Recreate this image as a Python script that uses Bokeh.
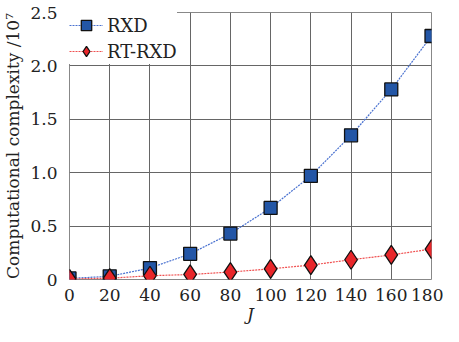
from bokeh.plotting import figure
from bokeh.models import FixedTicker, Range1d, Legend, LegendItem
from bokeh.embed import file_html
from bokeh.resources import INLINE

J = [0, 20, 40, 60, 80, 100, 120, 140, 160, 180]
rxd = [0.01, 0.03, 0.107, 0.24, 0.43, 0.67, 0.97, 1.35, 1.78, 2.28]
rt_rxd = [0.005, 0.012, 0.035, 0.047, 0.07, 0.10, 0.135, 0.185, 0.23, 0.285]
y_ticks = [0, 0.5, 1.0, 1.5, 2.0, 2.5]
y_labels = ["0", "0.5", "1.0", "1.5", "2.0", "2.5"]
x_ticks = [0, 20, 40, 60, 80, 100, 120, 140, 160, 180]

AX_FONT = "'DejaVu Serif', serif"
AX_FS = "17px"
LEG_FONT = "'DejaVu Serif', serif"
LEG_FS = "18px"

p = figure(width=443, height=326, output_backend="svg", toolbar_location=None,
           x_range=Range1d(0, 180), y_range=Range1d(0, 2.5),
           min_border_left=65, min_border_right=12, min_border_top=12, min_border_bottom=42)

p.outline_line_color = "#888888"
p.outline_line_width = 1
p.background_fill_color = "white"
p.border_fill_color = "white"

for ax in (p.xaxis[0], p.yaxis[0]):
    ax.axis_line_color = None
    ax.major_tick_line_color = None
    ax.minor_tick_line_color = None
    ax.major_label_text_font = AX_FONT
    ax.major_label_text_font_size = AX_FS
    ax.major_label_text_color = "#222222"
    ax.axis_label_text_font = AX_FONT
    ax.axis_label_text_font_size = AX_FS
    ax.axis_label_text_font_style = "normal"
    ax.axis_label_text_color = "#222222"

p.xaxis.ticker = FixedTicker(ticks=x_ticks)
p.yaxis.ticker = FixedTicker(ticks=y_ticks)
p.yaxis.major_label_overrides = {t: l for t, l in zip(y_ticks, y_labels)}
p.xaxis.major_label_standoff = 3
p.yaxis.major_label_standoff = 6
p.xaxis.axis_label = "J"
p.xaxis.axis_label_text_font_style = "italic"
p.xaxis.axis_label_standoff = 0
p.yaxis.axis_label = "Computational complexity /10\u2077"
p.yaxis.axis_label_standoff = 4

p.xgrid.grid_line_color = "#666666"
p.ygrid.grid_line_color = "#666666"
p.xgrid.grid_line_width = 1
p.ygrid.grid_line_width = 1

l1 = p.line(J, rxd, line_color="#4a72d0", line_width=1.2, line_dash="2 1")
m1 = p.scatter(J, rxd, marker="square", size=13, fill_color="#2356a6",
               line_color="#111111", line_width=1.3)
l2 = p.line(J, rt_rxd, line_color="#f05050", line_width=1.2, line_dash="2 1")
m2 = p.scatter(J, rt_rxd, marker="diamond", size=19, fill_color="#e8262a",
               line_color="#111111", line_width=1.3)

legend = Legend(items=[LegendItem(label="RXD", renderers=[l1, m1]),
                       LegendItem(label="RT-RXD", renderers=[l2, m2])],
                location="top_left")
legend.label_text_font = LEG_FONT
legend.label_text_font_size = LEG_FS
legend.label_text_color = "#222222"
legend.border_line_color = None
legend.background_fill_color = "white"
legend.background_fill_alpha = 1.0
legend.margin = 0
legend.padding = 5
legend.spacing = 0
legend.glyph_width = 34
legend.glyph_height = 26
legend.label_standoff = 4
p.add_layout(legend)

open("out.html", "w").write(file_html(p, INLINE))
